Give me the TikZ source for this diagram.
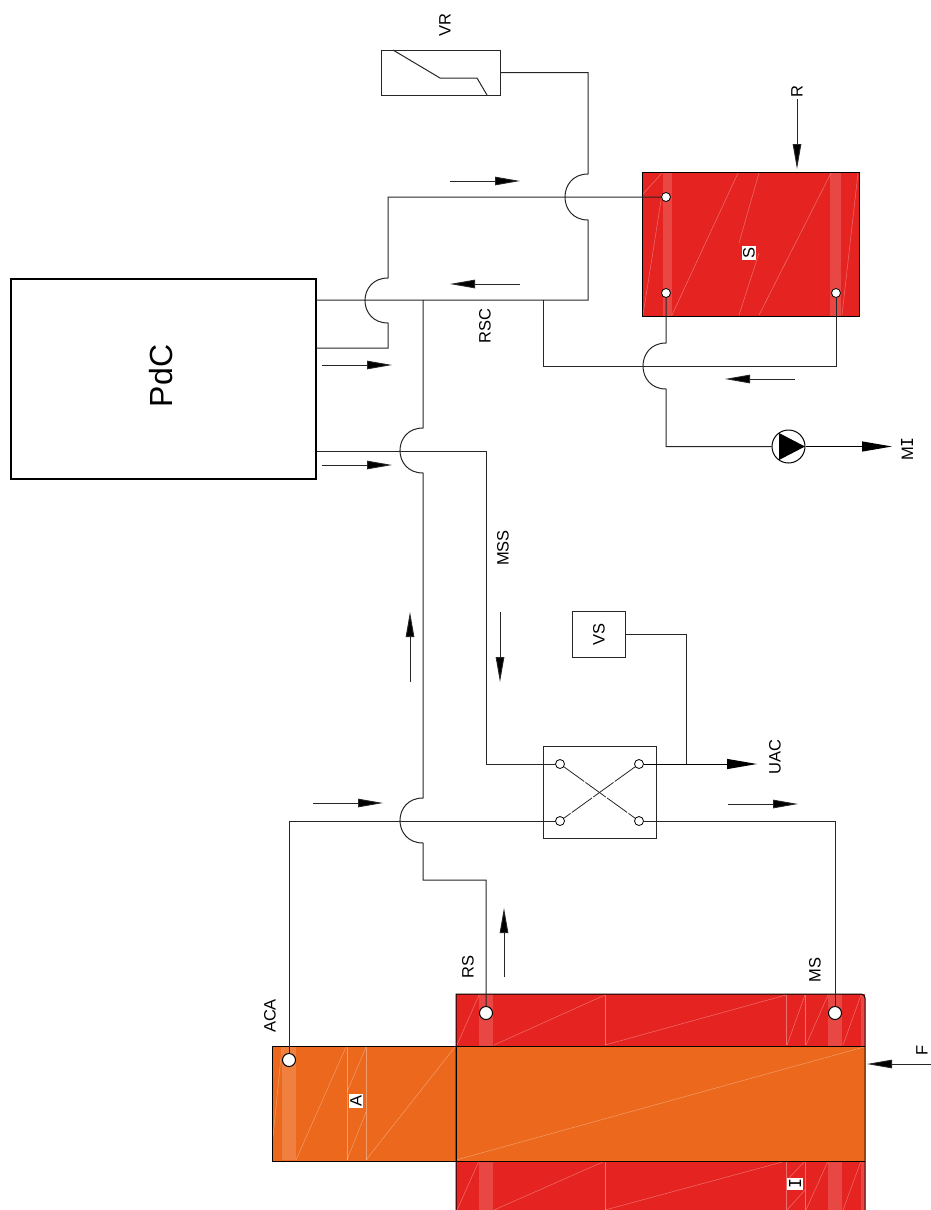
\documentclass[tikz,border=0pt]{standalone}
\usepackage{fontspec}
\setmainfont{Liberation Sans}
\newfontfamily\barfont{DejaVu Sans Mono}
\usetikzlibrary{arrows.meta}
\definecolor{tankred}{HTML}{E52421}
\definecolor{tankorange}{HTML}{EC681C}
\tikzset{
    pipe/.style={line width=1pt,black!85},
    hop/.style={to path={.. controls +(-30.7,0) and +(-30.7,0) .. (\tikztotarget)}},
    flow/.style={line width=0.9pt,black!85,-{Triangle[length=25pt,width=8.5pt,fill=black]}},
    outlet/.style={line width=1pt,-{Triangle[length=30pt,width=10pt,fill=black]}},
    port/.style={circle,draw=black,fill=white,line width=0.8pt,inner sep=0pt,minimum size=9pt},
    bigport/.style={port,line width=1pt,minimum size=13pt},
    box/.style={draw=black!85,line width=1pt,inner sep=0pt},
    tank/.style={draw=black,line width=1pt},
    band/.style={white,opacity=0.16},
    seam/.style={white,opacity=0.35,line width=0.5pt},
    tag/.style={rotate=90,inner sep=1pt,font=\fontsize{16.5}{19}\selectfont},
    plate/.style={tag,fill=white,inner sep=1.5pt}
}
\begin{document}
\begin{tikzpicture}[x=1pt,y=-1pt]
    \useasboundingbox (0,0) rectangle (931,1210);

    % Tanks
    \fill[tankred] (456,994) rectangle (865,1210);
    \fill[tankred] (642,172) rectangle (859,316);
    \fill[tankorange] (272,1046) rectangle (865,1161);

    % Streaks on the tank fills
    \foreach \xa/\ya/\xb/\yb in {663/172/672/316,830/172/841/316,
        282/1046/296/1160,479/994/493/1046,828/994/842/1046,861/994/865/1046,
        479/1161/493/1210,828/1161/842/1210,861/1161/865/1210}
        \fill[band] (\xa,\ya) rectangle (\xb,\yb);
    \foreach \xa/\ya/\xb/\yb in {643/194/662/173,643/315/662/194,672/315/738/173,
        739/315/759/253,739/243/759/173,759/315/831/173,842/315/858/173,
        296/1160/346/1047,347/1092/366/1047,347/1160/366/1112,366/1160/455/1047,
        273/1137/282/1047,347/1047/347/1160,366/1047/366/1160,456/1160/864/1047,
        457/1045/479/995,494/1045/605/995,605/1045/786/995,787/1045/805/995,
        806/1045/828/995,843/1045/861/995,605/995/605/1045,786/995/786/1045,805/995/805/1045,
        457/1210/479/1161,494/1210/605/1161,605/1210/786/1161,787/1180/805/1161,
        787/1210/805/1190,806/1210/828/1161,843/1210/861/1161,605/1161/605/1210,
        786/1161/786/1210,805/1161/805/1210}
        \draw[seam] (\xa,\ya) -- (\xb,\yb);

    % Tank outlines
    \draw[tank] (642,172) rectangle (859,316);
    \draw[tank] (456,1210) -- (456,994) {[rounded corners=4pt] -- (865,994) -- (865,1210)};
    \draw[tank] (272,1046) rectangle (456,1161);
    \draw[tank] (456,1046) -- (865,1046);
    \draw[tank] (456,1161) -- (865,1161);

    % Equipment
    \node[draw=black,line width=1.4pt,inner sep=0pt,minimum width=305pt,minimum height=200pt] (PdC) at (163.5,379) {};
    \node[rotate=90,font=\fontsize{32}{36}\selectfont] (PdClabel) at (161,376) {PdC};
    \node[box,minimum width=119pt,minimum height=45pt] (VR) at (440.5,72.5) {};
    \node[box,minimum width=53pt,minimum height=46pt] (VS) at (598.5,634) {};
    \node[box,minimum width=113pt,minimum height=92pt] (SW) at (599.5,792) {};
    \node[circle,draw=black,line width=1pt,inner sep=0pt,minimum size=33pt] (Pump) at (788.5,446.5) {};
    \fill (779,433) -- (805,446.5) -- (779,460) -- cycle;
    \draw[pipe] (393,50) -- (440,78) -- (477,78) -- (487,95);

    % Ports
    \node[port] (pS1) at (666,197) {};
    \node[port] (pS2) at (666,293) {};
    \node[port] (pS3) at (836,293) {};
    \node[port] (pV1) at (560,764) {};
    \node[port] (pV2) at (639,764) {};
    \node[port] (pV3) at (560,821) {};
    \node[port] (pV4) at (639,821) {};
    \node[bigport] (pR) at (486,1013) {};
    \node[bigport] (pM) at (835,1013) {};
    \node[bigport] (pA) at (289,1060) {};

    % Pipe corners and hops
    \foreach \n/\x/\y in {hopSt/588/174,hopSb/588/220,hopPt/388/278,hopPb/388/323,
        hopMt/423/428,hopMb/423/473,hopAt/423/798,hopAb/423/843,hopIt/666/343,hopIb/666/389,
        jRS/543/300,jRC/423/300,jPb/388/348,jM/486/451,jR/486/880,jI/836/366,jU/686/764,
        endU/757/764,endI/892/446.5,tipR/797/169,tipF/867/1064,startF/931/1064}
        \coordinate (\n) at (\x,\y);

    % Pipes
    \draw[pipe] (VR.east) -| (hopSt) to[hop] (hopSb) |- (jRS) -- (jRC) -- (jRC -| PdC.east);
    \draw[pipe] (pS1) -| (hopPt) to[hop] (hopPb) |- (jPb -| PdC.east);
    \draw[pipe] (jRC) -- (hopMt) to[hop] (hopMb) -- (hopAt) to[hop] (hopAb) |- (jR) -- (pR);
    \draw[pipe] (jM -| PdC.east) -- (jM) |- (pV1);
    \draw[pipe] (pA) |- (pV3);
    \draw[pipe] (pV4) -| (pM);
    \draw[pipe] (jRS) |- (jI) -- (pS3);
    \draw[pipe] (pS2) -- (hopIt) to[hop] (hopIb) |- (Pump);
    \draw[pipe] (VS.east) -| (jU);
    \draw[outlet] (pV2) -- (endU);
    \draw[outlet] (Pump) -- (endI);

    % Crossed valve links
    \draw[pipe,line width=0.8pt,dash pattern=on 25pt off 1.5pt] (pV1) -- (pV4);
    \draw[pipe,line width=0.8pt,dash pattern=on 25pt off 1.5pt] (pV2) -- (pV3);

    % Flow arrows
    \foreach \n/\xa/\ya/\xb/\yb in {fa/450/181/520/181,fb/520/284/450/284,fc/322/365/392/365,
        fd/322/465/392/465,fe/795/379/725/379,ff/410/682/410/612,fg/500/612/500/682,
        fh/313/803/383/803,fi/728/804/798/804,fj/504/977/504/908}{
        \coordinate (\n a) at (\xa,\ya);
        \coordinate (\n b) at (\xb,\yb);
        \draw[flow] (\n a) -- (\n b);
    }

    % Labels
    \node[tag] (labVR) at (445,25) {VR};
    \node[tag] (labR) at (797,92) {R};
    \node[tag] (labRSC) at (485,326) {RSC};
    \node[tag] (labMSS) at (503,548) {MSS};
    \node[tag] (labVS) at (599,634) {VS};
    \node[tag] (labUAC) at (775,757) {UAC};
    \node[tag] (labRS) at (468,967) {RS};
    \node[tag] (labMS) at (815,970) {MS};
    \node[tag] (labACA) at (270,1016) {ACA};
    \node[tag] (labF) at (922,1050) {F};
    \node[tag] (labMI) at (907,449) {M{\barfont I}};
    \node[plate] (labS) at (749,253) {S};
    \node[plate] (labA) at (356,1101) {A};
    \node[plate] (labI) at (795,1184) {{\barfont I}};
    \draw[flow] (labR) -- (tipR);
    \draw[flow] (startF) -- (tipF);
\end{tikzpicture}
\end{document}
